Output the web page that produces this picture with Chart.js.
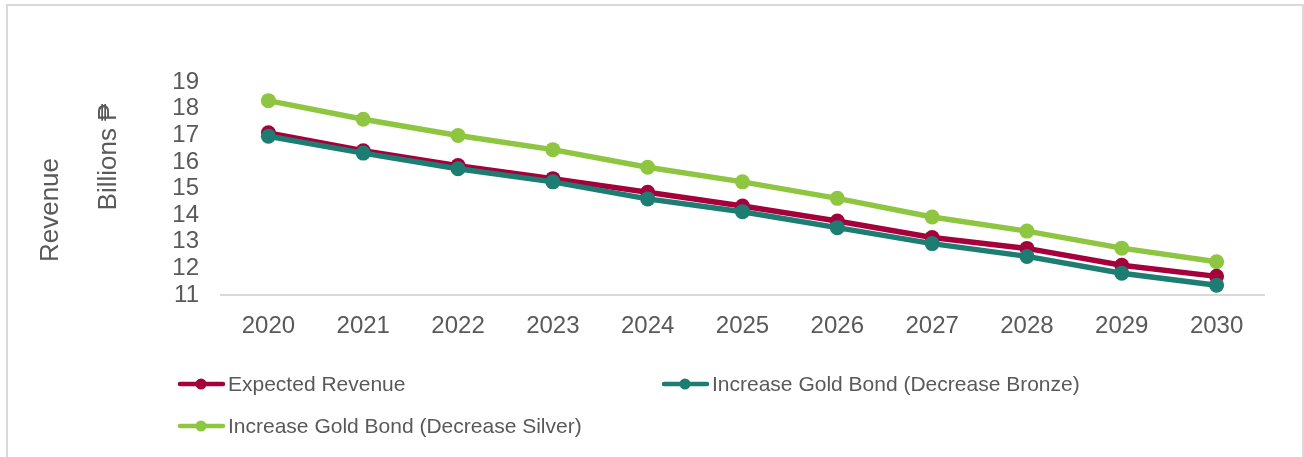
<!DOCTYPE html>
<html>
<head>
<meta charset="utf-8">
<script src="https://cdn.jsdelivr.net/npm/chart.js@4.4.0/dist/chart.umd.min.js"></script>
<style>
  html, body { margin: 0; padding: 0; background: #fff; overflow: hidden; }
  #wrap { position: relative; width: 1304px; height: 457px; }
  #chart { position: absolute; left: 0; top: 0; }
  #frame {
    position: absolute; left: 6px; top: 4px; width: 1294px; height: 480px;
    border: 2px solid #d9d9d9; border-bottom: none; pointer-events: none;
  }
</style>
</head>
<body>
<div id="wrap">
  <canvas id="chart" width="1304" height="457"></canvas>
  <div id="frame"></div>
</div>
<script>
const years = ['2020', '2021', '2022', '2023', '2024', '2025', '2026', '2027', '2028', '2029', '2030'];

const expectedRevenue = [17.09, 16.42, 15.86, 15.37, 14.86, 14.34, 13.78, 13.16, 12.75, 12.12, 11.70];
const decreaseBronze  = [16.96, 16.33, 15.74, 15.25, 14.61, 14.13, 13.53, 12.93, 12.45, 11.82, 11.37];
const decreaseSilver  = [18.30, 17.60, 16.99, 16.46, 15.80, 15.25, 14.63, 13.93, 13.40, 12.76, 12.25];

const seriesNames = [
    'Expected Revenue',
    'Increase Gold Bond (Decrease Bronze)',
    'Increase Gold Bond (Decrease Silver)'
];
const colors = ['#a5003c', '#1d7d72', '#8fc641'];

const textColor = '#595959';
const fontFamily = '"Liberation Sans", Arial, sans-serif';

// titles on the left and the legend at the bottom
const decorPlugin = {
    id: 'decor',
    afterDraw(chart) {
        const ctx = chart.ctx;
        ctx.save();
        ctx.fillStyle = textColor;
        ctx.textBaseline = 'middle';
        ctx.textAlign = 'center';

        ctx.save();
        ctx.translate(51, 210);
        ctx.rotate(-Math.PI / 2);
        ctx.font = '26px ' + fontFamily;
        ctx.fillText('Revenue', 0, 0);
        ctx.restore();

        ctx.save();
        ctx.translate(109, 157);
        ctx.rotate(-Math.PI / 2);
        ctx.font = '26px ' + fontFamily;
        ctx.fillText('Billions \u20B1', 0, 0);
        ctx.restore();

        // legend items: [index, x, y]
        const items = [[0, 178, 384], [1, 662, 384], [2, 178, 426]];
        ctx.font = '21px ' + fontFamily;
        ctx.textAlign = 'left';
        items.forEach(([i, x, y]) => {
            ctx.strokeStyle = colors[i];
            ctx.lineWidth = 4.5;
            ctx.lineCap = 'round';
            ctx.beginPath();
            ctx.moveTo(x + 2, y);
            ctx.lineTo(x + 45, y);
            ctx.stroke();
            ctx.fillStyle = colors[i];
            ctx.beginPath();
            ctx.arc(x + 23, y, 5.5, 0, Math.PI * 2);
            ctx.fill();
            ctx.fillStyle = textColor;
            ctx.fillText(seriesNames[i], x + 50, y + 1);
        });
        ctx.restore();
    }
};

const makeSet = (i, data, order) => ({
    label: seriesNames[i],
    data: data,
    borderColor: colors[i],
    backgroundColor: colors[i],
    borderWidth: 5.5,
    pointRadius: 7.5,
    pointBorderWidth: 0,
    pointBackgroundColor: colors[i],
    tension: 0,
    order: order
});

new Chart(document.getElementById('chart'), {
    type: 'line',
    data: {
        labels: years,
        datasets: [
            makeSet(0, expectedRevenue, 2),
            makeSet(1, decreaseBronze, 1),
            makeSet(2, decreaseSilver, 3)
        ]
    },
    options: {
        responsive: false,
        animation: false,
        layout: { padding: { top: 82, right: 40, bottom: 0, left: 0 } },
        plugins: {
            legend: { display: false },
            tooltip: { enabled: false }
        },
        scales: {
            x: {
                offset: true,
                grid: { display: false, drawTicks: false },
                border: { display: true, color: '#d9d9d9', width: 2 },
                ticks: {
                    color: textColor,
                    font: { family: fontFamily, size: 24 },
                    padding: 17,
                    maxRotation: 0,
                    autoSkip: false
                },
                afterFit: (scale) => { scale.height = 162; }
            },
            y: {
                min: 11,
                max: 19,
                grid: { display: false, drawTicks: false },
                border: { display: false },
                ticks: {
                    stepSize: 1,
                    autoSkip: false,
                    color: textColor,
                    font: { family: fontFamily, size: 24 },
                    padding: 22
                },
                afterFit: (scale) => { scale.width = 221; }
            }
        }
    },
    plugins: [decorPlugin]
});
</script>
</body>
</html>
